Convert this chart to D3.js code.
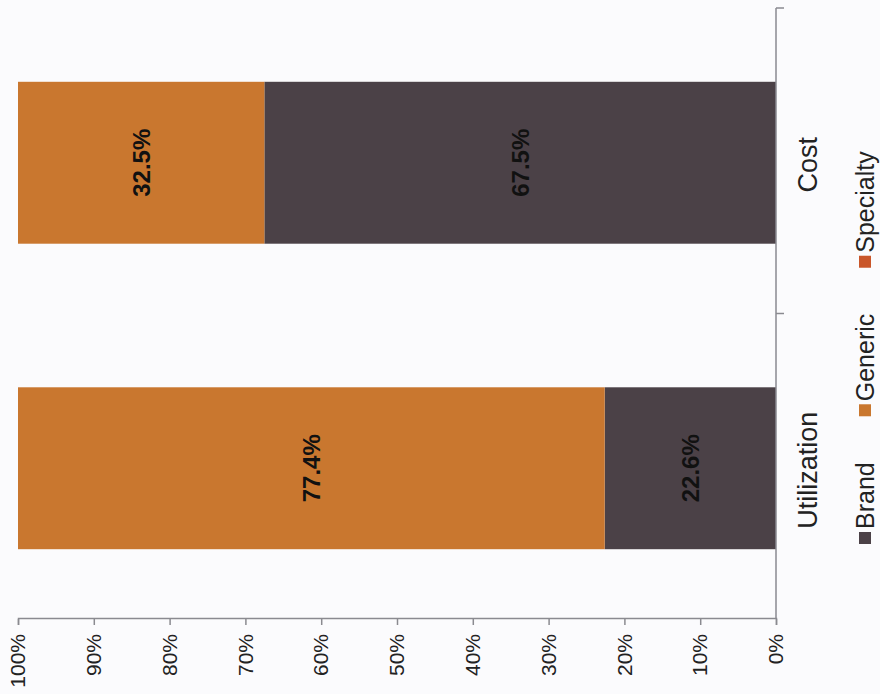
<!DOCTYPE html>
<html>
<head>
<meta charset="utf-8">
<script src="https://cdn.jsdelivr.net/npm/d3@7/dist/d3.min.js"></script>
<style>
  html, body { margin: 0; padding: 0; background: #fbfbfd; }
  svg { display: block; font-family: Arial, "Liberation Sans", sans-serif; }
</style>
</head>
<body>
<svg id="chart" width="880" height="694"></svg>
<script>
// chart data
const categories = ['Utilization', 'Cost'];
const seriesNames = ['Brand', 'Generic', 'Specialty'];
const brandValues = [22.6, 67.5];
const genericValues = [77.4, 32.5];
const specialtyValues = [0, 0];
const tickValues = [0, 10, 20, 30, 40, 50, 60, 70, 80, 90, 100];
const colors = ['#4b4147', '#c9772f', '#c9562a'];

function renderChart() {
  const svg = d3.select('#chart');
  const W = 880, H = 694;

  // the chart is drawn upright and then turned a quarter to the left
  const g = svg.append('g').attr('transform', `translate(0,${H}) rotate(-90)`);

  const left = 75, right = 686;   // along the category axis
  const top = 18, base = 776;     // along the value axis

  const x = d3.scaleBand().domain(categories).range([left, right]).padding(0);
  const y = d3.scaleLinear().domain([0, 100]).range([base, top]);
  const color = d3.scaleOrdinal().domain(seriesNames).range(colors);

  const rows = categories.map((c, i) => ({
    category: c, Brand: brandValues[i], Generic: genericValues[i], Specialty: specialtyValues[i]
  }));
  const stacked = d3.stack().keys(seriesNames)(rows);

  const barW = x.bandwidth() * 0.53;
  const off = (x.bandwidth() - barW) / 2;

  const layers = g.selectAll('.layer')
    .data(stacked)
    .enter()
    .append('g')
    .attr('fill', d => color(d.key));

  layers.selectAll('rect')
    .data(d => d)
    .enter()
    .append('rect')
    .attr('x', d => x(d.data.category) + off - 2)
    .attr('width', barW)
    .attr('y', d => y(d[1]))
    .attr('height', d => y(d[0]) - y(d[1]));

  // value labels
  stacked.forEach(layer => {
    layer.forEach(d => {
      const v = d[1] - d[0];
      if (v <= 0) return;
      g.append('text')
        .attr('x', x(d.data.category) + x.bandwidth() / 2 - 2)
        .attr('y', (y(d[0]) + y(d[1])) / 2)
        .attr('dy', '0.35em')
        .attr('text-anchor', 'middle')
        .attr('font-size', 24)
        .attr('font-weight', 'bold')
        .attr('fill', '#111')
        .text(v.toFixed(1) + '%');
    });
  });

  // value axis
  const yAxis = g.append('g')
    .attr('transform', `translate(${left},0)`)
    .call(d3.axisLeft(y).tickValues(tickValues).tickSize(6).tickPadding(9).tickFormat(d => d + '%'));
  yAxis.select('.domain').attr('stroke', '#8a8a90').attr('stroke-width', 1.5);
  yAxis.selectAll('.tick line').attr('stroke', '#8a8a90').attr('stroke-width', 1.5);
  yAxis.selectAll('.tick text').attr('font-size', 21).attr('fill', '#222').attr('font-family', 'Arial, "Liberation Sans", sans-serif');

  // category axis, ticks sit between the groups
  const xa = g.append('g').attr('class', 'cat-axis');
  xa.append('line')
    .attr('x1', left).attr('x2', right)
    .attr('y1', base).attr('y2', base)
    .attr('stroke', '#8a8a90').attr('stroke-width', 1.5);
  const edges = categories.map(c => x(c)).concat([right]).slice(1);
  xa.selectAll('.edge')
    .data(edges)
    .enter()
    .append('line')
    .attr('x1', d => d).attr('x2', d => d)
    .attr('y1', base).attr('y2', base + 8)
    .attr('stroke', '#8a8a90').attr('stroke-width', 1.5);
  xa.selectAll('.cat')
    .data(categories)
    .enter()
    .append('text')
    .attr('x', d => x(d) + x.bandwidth() / 2 - 4)
    .attr('y', base + 41)
    .attr('text-anchor', 'middle')
    .attr('font-size', 27)
    .attr('fill', '#222')
    .text(d => d);

  // legend
  const legend = g.append('g').attr('transform', `translate(0,${865})`);
  let lx = 150;
  seriesNames.forEach(name => {
    legend.append('rect')
      .attr('x', lx).attr('y', -6)
      .attr('width', 12).attr('height', 12)
      .attr('fill', color(name));
    const t = legend.append('text')
      .attr('x', lx + 15)
      .attr('y', 0)
      .attr('dy', '0.36em')
      .attr('font-size', 25)
      .attr('fill', '#222')
      .text(name);
    lx += 15 + t.node().getComputedTextLength() + 46;
  });
}

document.addEventListener('DOMContentLoaded', renderChart);
</script>
</body>
</html>
